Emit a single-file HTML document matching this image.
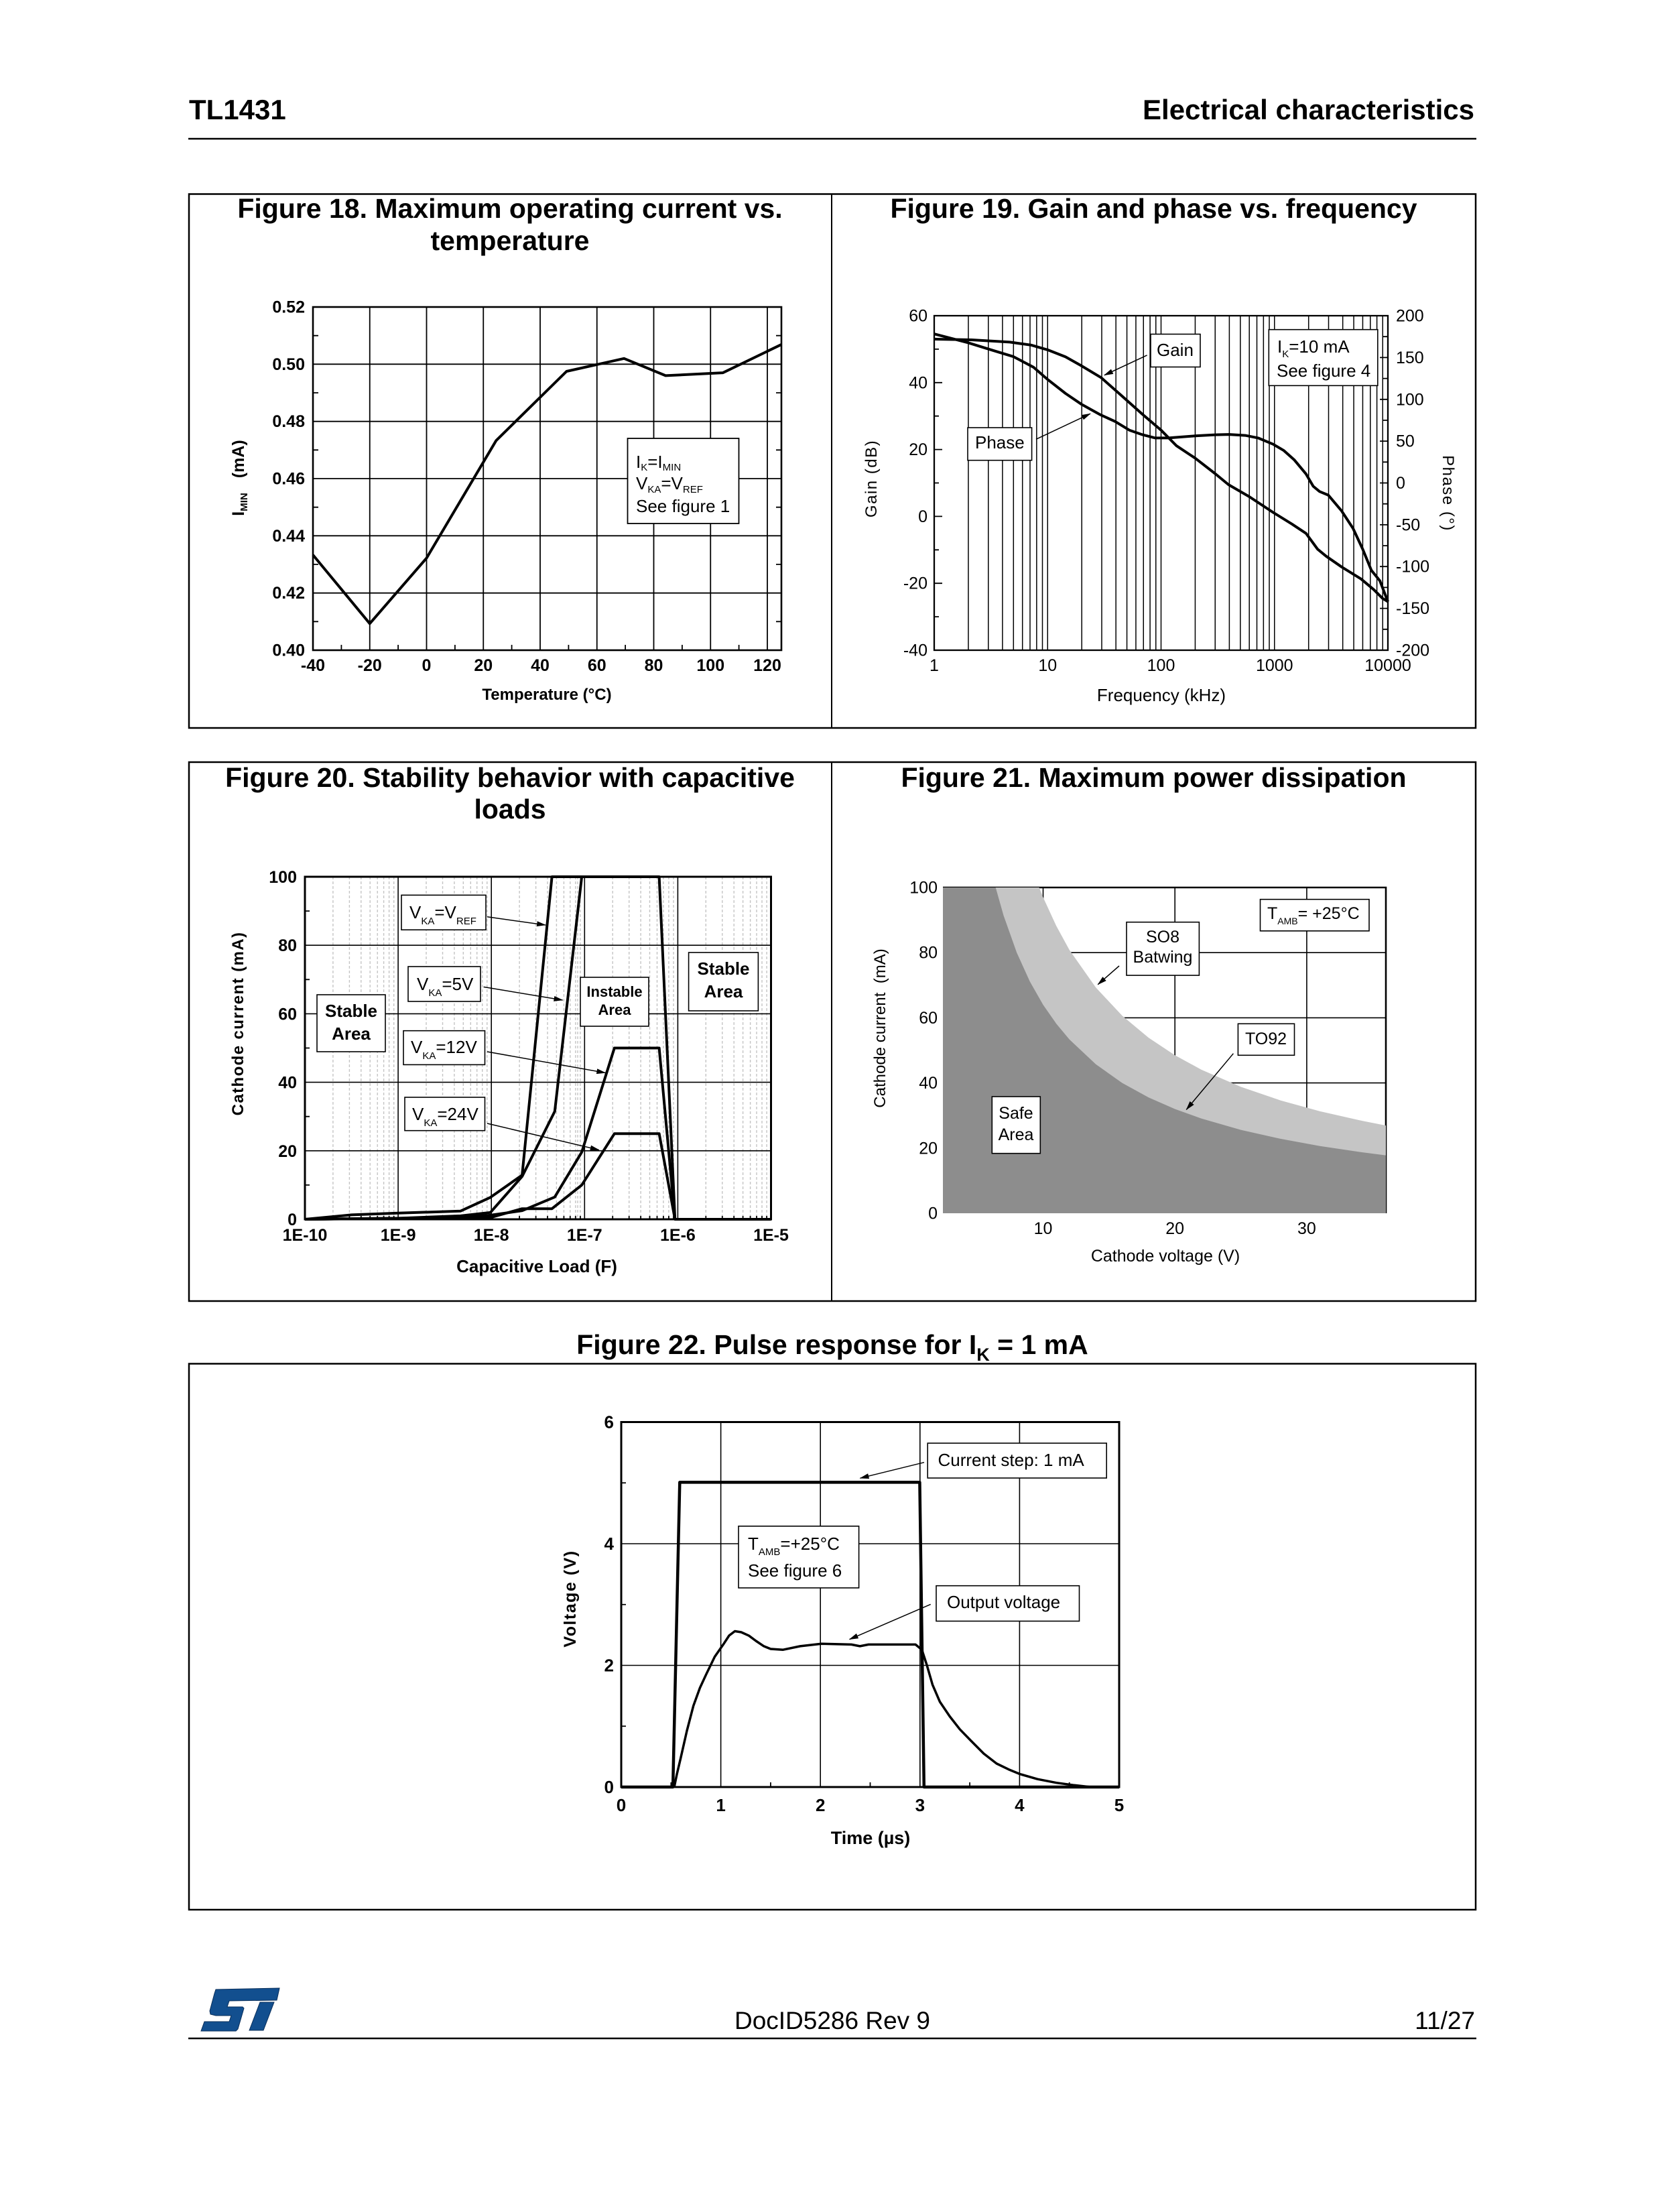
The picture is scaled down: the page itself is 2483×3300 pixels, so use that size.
<!DOCTYPE html>
<html><head><meta charset="utf-8"><style>
html,body{margin:0;padding:0;background:#fff;}
svg{display:block;}
text{font-family:"Liberation Sans",Arial,sans-serif;fill:#000;}
.b{font-weight:bold;}
</style></head><body>
<svg width="2483" height="3300" viewBox="0 0 2483 3300" xmlns="http://www.w3.org/2000/svg">
<defs>
<marker id="ah" markerWidth="14" markerHeight="8" refX="13" refY="4" orient="auto" markerUnits="userSpaceOnUse"><path d="M0,0 L14,4 L0,8 Z" fill="#000"/></marker>
</defs>
<rect x="0" y="0" width="2483" height="3300" fill="#fff"/>

<!-- Header -->
<text x="282" y="178" class="b" font-size="42">TL1431</text>
<text x="2200" y="178" class="b" font-size="42" text-anchor="end">Electrical characteristics</text>
<line x1="281" y1="207" x2="2203" y2="207" stroke="#000" stroke-width="2.5"/>

<!-- Row 1 box -->
<rect x="282" y="289.5" width="1920" height="796.5" fill="none" stroke="#000" stroke-width="2.5"/>
<line x1="1241" y1="289.5" x2="1241" y2="1086" stroke="#000" stroke-width="2"/>

<!-- ============ FIGURE 18 ============ -->
<text x="761" y="325" class="b" font-size="41" text-anchor="middle">Figure 18. Maximum operating current vs.</text>
<text x="761" y="373" class="b" font-size="41" text-anchor="middle">temperature</text>
<g stroke="#000" stroke-width="1.8" fill="none">
<path d="M467,543.3H1166M467,628.7H1166M467,714H1166M467,799.3H1166M467,884.7H1166"/>
<path d="M551.75,458V970M636.5,458V970M721.25,458V970M806,458V970M890.75,458V970M975.5,458V970M1060.25,458V970M1145,458V970"/>
<path d="M467,500.7h8M467,586h8M467,671.3h8M467,756.7h8M467,842h8M467,927.3h8M1166,500.7h-8M1166,586h-8M1166,671.3h-8M1166,756.7h-8M1166,842h-8M1166,927.3h-8"/>
<path d="M509.4,970v-8M594.1,970v-8M678.9,970v-8M763.6,970v-8M848.4,970v-8M933.1,970v-8M1017.9,970v-8M1102.6,970v-8"/>
</g>
<rect x="467" y="458" width="699" height="512" fill="none" stroke="#000" stroke-width="2.6"/>
<polyline points="467,827.9 551.75,930.3 636.5,832.6 740.3,657.3 845.4,554 931.2,534.8 993.2,560.4 1078.8,556.1 1166,513.9" fill="none" stroke="#000" stroke-width="4" stroke-linejoin="round"/>
<g class="b" font-size="25" text-anchor="end">
<text x="455" y="466.5">0.52</text>
<text x="455" y="551.8">0.50</text>
<text x="455" y="637.2">0.48</text>
<text x="455" y="722.5">0.46</text>
<text x="455" y="807.8">0.44</text>
<text x="455" y="893.2">0.42</text>
<text x="455" y="978.5">0.40</text>
</g>
<g class="b" font-size="25" text-anchor="middle">
<text x="467" y="1001">-40</text>
<text x="551.75" y="1001">-20</text>
<text x="636.5" y="1001">0</text>
<text x="721.25" y="1001">20</text>
<text x="806" y="1001">40</text>
<text x="890.75" y="1001">60</text>
<text x="975.5" y="1001">80</text>
<text x="1060.25" y="1001">100</text>
<text x="1145" y="1001">120</text>
</g>
<text x="816" y="1044" class="b" font-size="24" text-anchor="middle">Temperature (°C)</text>
<text transform="translate(364,713) rotate(-90)" class="b" font-size="25" text-anchor="middle">I<tspan font-size="15" dy="5">MIN</tspan><tspan dy="-5" dx="22">(mA)</tspan></text>
<rect x="936.5" y="654" width="166" height="127" fill="#fff" stroke="#000" stroke-width="1.8"/>
<text x="949" y="698" font-size="26">I<tspan font-size="15" dy="4">K</tspan><tspan dy="-4">=I</tspan><tspan font-size="15" dy="4">MIN</tspan></text>
<text x="949" y="730" font-size="26">V<tspan font-size="15" dy="5">KA</tspan><tspan dy="-5">=V</tspan><tspan font-size="15" dy="5">REF</tspan></text>
<text x="949" y="764" font-size="26">See figure 1</text>

<!-- ============ FIGURE 19 ============ -->
<text x="1721.5" y="325" class="b" font-size="41" text-anchor="middle">Figure 19. Gain and phase vs. frequency</text>
<path d="M1444.95,471V970M1474.75,471V970M1495.9,471V970M1512.3,471V970M1525.7,471V970M1537,471V970M1546.85,471V970M1555.5,471V970M1563.25,471V970M1614.2,471V970M1644,471V970M1665.15,471V970M1681.55,471V970M1694.95,471V970M1706.25,471V970M1716.1,471V970M1724.75,471V970M1732.5,471V970M1783.45,471V970M1813.25,471V970M1834.4,471V970M1850.8,471V970M1864.2,471V970M1875.5,471V970M1885.35,471V970M1894,471V970M1901.75,471V970M1952.7,471V970M1982.5,471V970M2003.65,471V970M2020.05,471V970M2033.45,471V970M2044.75,471V970M2054.6,471V970M2063.25,471V970" stroke="#000" stroke-width="1.5" fill="none"/>
<rect x="1394" y="471" width="677" height="499" fill="none" stroke="#000" stroke-width="2.3"/>
<path d="M1394,570.8h12M1394,670.6h12M1394,770.4h12M1394,870.2h12M1394,520.9h7M1394,620.7h7M1394,720.5h7M1394,820.3h7M1394,920.1h7" stroke="#000" stroke-width="1.8"/>
<path d="M2071,533.4h-12M2071,595.8h-12M2071,658.1h-12M2071,720.5h-12M2071,782.9h-12M2071,845.2h-12M2071,907.6h-12M2071,502.2h-7M2071,564.6h-7M2071,627h-7M2071,689.3h-7M2071,751.7h-7M2071,814.1h-7M2071,876.4h-7M2071,938.8h-7" stroke="#000" stroke-width="1.8"/>
<polyline points="1394,505.9 1449.5,507 1506.9,510.4 1539.1,514.9 1563.25,521.9 1590,532.4 1613.1,545.4 1643,563.3 1673,589.8 1705,618.2 1732.5,641.7 1755.6,665.1 1783.5,683.6 1813.7,707 1833.1,723 1864.2,741 1899.7,764.4 1928,781.9 1948.9,795.8 1966.1,819.3 1978.9,829.8 2001.8,845.7 2030.9,863.7 2050,879.7 2062.9,892.6 2071,897.6" fill="none" stroke="#000" stroke-width="4" stroke-linejoin="round"/>
<polyline points="1394,498.2 1444.6,511.3 1481.8,522.8 1512.3,532.1 1542.1,547.8 1563.25,566.1 1590,587 1613.1,602.7 1641,618.3 1664,628.8 1685.6,641.9 1705,648.6 1723.9,653.4 1743.4,653.4 1783.5,650.3 1813.7,648.6 1834.1,648.1 1858.2,649.6 1877.4,653.4 1899.7,662.7 1915.8,672.2 1931.5,686.3 1948.9,707.2 1959.6,725.5 1969.1,733.3 1982,738.6 2001.8,762 2018.9,788.1 2033.5,819.5 2046.3,850.8 2059,866.4 2071,897.6" fill="none" stroke="#000" stroke-width="4" stroke-linejoin="round"/>
<g font-size="25" text-anchor="end">
<text x="1384" y="479.5">60</text>
<text x="1384" y="579.3">40</text>
<text x="1384" y="679.1">20</text>
<text x="1384" y="778.9">0</text>
<text x="1384" y="878.7">-20</text>
<text x="1384" y="978.5">-40</text>
</g>
<g font-size="25">
<text x="2083" y="479.5">200</text>
<text x="2083" y="541.9">150</text>
<text x="2083" y="604.3">100</text>
<text x="2083" y="666.6">50</text>
<text x="2083" y="729">0</text>
<text x="2083" y="791.4">-50</text>
<text x="2083" y="853.7">-100</text>
<text x="2083" y="916.1">-150</text>
<text x="2083" y="978.5">-200</text>
</g>
<g font-size="25" text-anchor="middle">
<text x="1394" y="1001">1</text>
<text x="1563.25" y="1001">10</text>
<text x="1732.5" y="1001">100</text>
<text x="1901.75" y="1001">1000</text>
<text x="2071" y="1001">10000</text>
</g>
<text x="1733" y="1046" font-size="26" text-anchor="middle">Frequency (kHz)</text>
<text transform="translate(1308,714) rotate(-90)" font-size="24" letter-spacing="1.5" text-anchor="middle">Gain (dB)</text>
<text transform="translate(2153,736) rotate(90)" font-size="24" letter-spacing="1.5" text-anchor="middle">Phase (°)</text>
<rect x="1717" y="498.5" width="74" height="49" fill="#fff" stroke="#000" stroke-width="1.6"/>
<text x="1726" y="531" font-size="26">Gain</text>
<line x1="1711.6" y1="529.9" x2="1647.9" y2="559.7" stroke="#000" stroke-width="1.5" marker-end="url(#ah)"/>
<rect x="1444" y="638" width="95.6" height="48.7" fill="#fff" stroke="#000" stroke-width="1.6"/>
<text x="1455" y="669" font-size="26">Phase</text>
<line x1="1546" y1="655.3" x2="1626.9" y2="617.2" stroke="#000" stroke-width="1.5" marker-end="url(#ah)"/>
<rect x="1893.3" y="491.7" width="162.5" height="83.6" fill="#fff" stroke="#000" stroke-width="1.6"/>
<text x="1906" y="526" font-size="26">I<tspan font-size="15" dy="7">K</tspan><tspan dy="-7">=10 mA</tspan></text>
<text x="1905" y="562" font-size="26">See figure 4</text>

<!-- Row 2 box -->
<rect x="282" y="1137" width="1920" height="804" fill="none" stroke="#000" stroke-width="2.5"/>
<line x1="1241" y1="1137" x2="1241" y2="1941" stroke="#000" stroke-width="2"/>

<!-- ============ FIGURE 20 ============ -->
<text x="761" y="1174" class="b" font-size="41" text-anchor="middle">Figure 20. Stability behavior with capacitive</text>
<text x="761" y="1221" class="b" font-size="41" text-anchor="middle">loads</text>
<path d="M496.9,1308V1819M521.4,1308V1819M538.8,1308V1819M552.2,1308V1819M563.2,1308V1819M572.6,1308V1819M580.6,1308V1819M587.7,1308V1819M636,1308V1819M660.5,1308V1819M677.9,1308V1819M691.3,1308V1819M702.3,1308V1819M711.7,1308V1819M719.7,1308V1819M726.8,1308V1819M775.1,1308V1819M799.6,1308V1819M817,1308V1819M830.4,1308V1819M841.4,1308V1819M850.8,1308V1819M858.8,1308V1819M865.9,1308V1819M914.2,1308V1819M938.7,1308V1819M956.1,1308V1819M969.5,1308V1819M980.5,1308V1819M989.9,1308V1819M997.9,1308V1819M1005,1308V1819M1053.3,1308V1819M1077.8,1308V1819M1095.2,1308V1819M1108.6,1308V1819M1119.6,1308V1819M1129,1308V1819M1137,1308V1819M1144.1,1308V1819M862,1308V1819" stroke="#c4c4c4" stroke-width="1.4" stroke-dasharray="4,3" fill="none"/>
<path d="M594.1,1308V1819M733.2,1308V1819M872.3,1308V1819M1011.4,1308V1819M455,1716.8H1150.5M455,1614.6H1150.5M455,1512.4H1150.5M455,1410.2H1150.5" stroke="#000" stroke-width="1.6" fill="none"/>
<path d="M496.9,1819v-5M521.4,1819v-5M538.8,1819v-5M552.2,1819v-5M563.2,1819v-5M572.6,1819v-5M580.6,1819v-5M587.7,1819v-5M636,1819v-5M660.5,1819v-5M677.9,1819v-5M691.3,1819v-5M702.3,1819v-5M711.7,1819v-5M719.7,1819v-5M726.8,1819v-5M775.1,1819v-5M799.6,1819v-5M817,1819v-5M830.4,1819v-5M841.4,1819v-5M850.8,1819v-5M858.8,1819v-5M865.9,1819v-5M914.2,1819v-5M938.7,1819v-5M956.1,1819v-5M969.5,1819v-5M980.5,1819v-5M989.9,1819v-5M997.9,1819v-5M1005,1819v-5M1053.3,1819v-5M1077.8,1819v-5M1095.2,1819v-5M1108.6,1819v-5M1119.6,1819v-5M1129,1819v-5M1137,1819v-5M1144.1,1819v-5M455,1767.9h7M455,1665.7h7M455,1563.5h7M455,1461.3h7M455,1359.1h7" stroke="#000" stroke-width="1.8" fill="none"/>
<rect x="455" y="1308" width="695.5" height="511" fill="none" stroke="#000" stroke-width="3"/>
<g fill="none" stroke="#000" stroke-width="4" stroke-linejoin="round">
<polyline points="455,1819 524.6,1812.4 594.1,1809.8 687.3,1806.7 731.8,1786.3 779.1,1753.1 823.6,1308 983.6,1308 1007.2,1819 1150.5,1819"/>
<polyline points="455,1819 594.1,1817.5 687.3,1813.9 731.8,1808.8 779.1,1755.1 827.8,1658 868.1,1308"/>
<polyline points="455,1819 687.3,1816.4 731.8,1812.9 779.1,1806.2 827.8,1785.8 868.1,1718.8 916.8,1563.5 983.6,1563.5 1007.2,1819"/>
<polyline points="455,1819 731.8,1816.4 779.1,1803.2 823.6,1803.2 868.1,1767.9 916.8,1691.3 983.6,1691.3 1007.2,1819"/>
</g>
<g class="b" font-size="25" text-anchor="end">
<text x="443" y="1828">0</text>
<text x="443" y="1725.8">20</text>
<text x="443" y="1623.6">40</text>
<text x="443" y="1521.4">60</text>
<text x="443" y="1419.2">80</text>
<text x="443" y="1317">100</text>
</g>
<g class="b" font-size="25" text-anchor="middle">
<text x="455" y="1851">1E-10</text>
<text x="594.1" y="1851">1E-9</text>
<text x="733.2" y="1851">1E-8</text>
<text x="872.3" y="1851">1E-7</text>
<text x="1011.4" y="1851">1E-6</text>
<text x="1150.5" y="1851">1E-5</text>
</g>
<text x="801" y="1898" class="b" font-size="26" text-anchor="middle">Capacitive Load (F)</text>
<text transform="translate(363,1527) rotate(-90)" class="b" font-size="24" letter-spacing="1.4" text-anchor="middle">Cathode current (mA)</text>
<g fill="#fff" stroke="#000" stroke-width="1.6">
<rect x="599" y="1335.4" width="126" height="51.8"/>
<rect x="609" y="1442" width="108" height="52"/>
<rect x="602" y="1537.7" width="121.5" height="50.7"/>
<rect x="604" y="1637" width="119.5" height="49.7"/>
<rect x="473" y="1484" width="102" height="85"/>
<rect x="866" y="1458" width="102" height="73"/>
<rect x="1027.6" y="1421" width="103.8" height="87"/>
</g>
<text x="611" y="1370" font-size="26">V<tspan font-size="15" dy="9">KA</tspan><tspan dy="-9">=V</tspan><tspan font-size="15" dy="9">REF</tspan></text>
<text x="622" y="1477" font-size="26">V<tspan font-size="15" dy="9">KA</tspan><tspan dy="-9">=5V</tspan></text>
<text x="613" y="1571" font-size="26">V<tspan font-size="15" dy="9">KA</tspan><tspan dy="-9">=12V</tspan></text>
<text x="615" y="1671" font-size="26">V<tspan font-size="15" dy="9">KA</tspan><tspan dy="-9">=24V</tspan></text>
<g class="b" text-anchor="middle">
<text x="524" y="1517" font-size="26">Stable</text>
<text x="524" y="1551" font-size="26">Area</text>
<text x="917" y="1487" font-size="22">Instable</text>
<text x="917" y="1514" font-size="22">Area</text>
<text x="1079.5" y="1454" font-size="26">Stable</text>
<text x="1079.5" y="1488" font-size="26">Area</text>
</g>
<g stroke="#000" stroke-width="1.5" marker-end="url(#ah)">
<line x1="727" y1="1367.8" x2="814" y2="1380"/>
<line x1="721.6" y1="1472.4" x2="839.5" y2="1492"/>
<line x1="727" y1="1569" x2="903.3" y2="1600.5"/>
<line x1="727" y1="1676" x2="893.7" y2="1715.5"/>
</g>

<!-- ============ FIGURE 21 ============ -->
<text x="1721.5" y="1174" class="b" font-size="41" text-anchor="middle">Figure 21. Maximum power dissipation</text>
<path d="M1556.5,1324V1810M1753.2,1324V1810M1949.9,1324V1810M1407,1712.8H2068M1407,1615.6H2068M1407,1518.4H2068M1407,1421.2H2068" stroke="#000" stroke-width="1.6" fill="none"/>
<path d="M1407,1324H2068V1810" stroke="#000" stroke-width="2.6" fill="none"/>
<polygon points="1407,1810 1407,1324 1550.6,1324 1556.5,1338.6 1576.2,1381.4 1595.8,1417.2 1635.2,1473.3 1674.5,1515.3 1713.9,1548.1 1753.2,1574.3 1792.5,1595.7 1851.5,1621.4 1910.6,1641.6 1969.6,1657.9 2028.6,1671.3 2068,1679.1 2068,1810" fill="#c5c5c5"/>
<polygon points="1407,1810 1407,1324 1485.7,1324 1497.5,1365.7 1517.2,1421.2 1536.8,1464.4 1556.5,1499 1576.2,1527.2 1595.8,1550.8 1635.2,1587.8 1674.5,1615.6 1713.9,1637.2 1753.2,1654.5 1792.5,1668.6 1851.5,1685.6 1910.6,1698.9 1969.6,1709.7 2028.6,1718.5 2068,1723.6 2068,1810" fill="#8d8d8d"/>
<g font-size="25" text-anchor="end">
<text x="1399" y="1818.5">0</text>
<text x="1399" y="1721.3">20</text>
<text x="1399" y="1624.1">40</text>
<text x="1399" y="1526.9">60</text>
<text x="1399" y="1429.7">80</text>
<text x="1399" y="1332.5">100</text>
</g>
<g font-size="25" text-anchor="middle">
<text x="1556.5" y="1841">10</text>
<text x="1753.2" y="1841">20</text>
<text x="1949.9" y="1841">30</text>
</g>
<text x="1739" y="1882" font-size="25" text-anchor="middle">Cathode voltage (V)</text>
<text transform="translate(1321,1534) rotate(-90)" font-size="24" text-anchor="middle" xml:space="preserve">Cathode current  (mA)</text>
<g fill="#fff" stroke="#000" stroke-width="1.6">
<rect x="1880.5" y="1341.7" width="162.5" height="47.1"/>
<rect x="1681" y="1375.7" width="108.4" height="79.4"/>
<rect x="1847.4" y="1527.3" width="84.1" height="47"/>
<rect x="1480.3" y="1636" width="72" height="84.7"/>
</g>
<text x="1891" y="1371" font-size="25">T<tspan font-size="14" dy="8">AMB</tspan><tspan dy="-8">= +25°C</tspan></text>
<g font-size="25" text-anchor="middle">
<text x="1735" y="1406">SO8</text>
<text x="1735" y="1436">Batwing</text>
<text x="1889" y="1558">TO92</text>
<text x="1516" y="1669">Safe</text>
<text x="1516" y="1701">Area</text>
</g>
<g stroke="#000" stroke-width="1.5" marker-end="url(#ah)">
<line x1="1670" y1="1441" x2="1638.3" y2="1468.7"/>
<line x1="1840.4" y1="1571.7" x2="1770.3" y2="1655.4"/>
</g>

<!-- ============ FIGURE 22 ============ -->
<text x="1242" y="2020" class="b" font-size="41" text-anchor="middle">Figure 22. Pulse response for I<tspan font-size="27" dy="10">K</tspan><tspan dy="-10"> = 1 mA</tspan></text>
<rect x="282" y="2034.5" width="1920" height="814.5" fill="none" stroke="#000" stroke-width="2.5"/>
<path d="M1075.6,2121.5V2666M1224.2,2121.5V2666M1372.8,2121.5V2666M1521.4,2121.5V2666M927,2484.5H1670M927,2303H1670" stroke="#000" stroke-width="1.6" fill="none"/>
<path d="M927,2575.25h7M927,2393.75h7M927,2212.25h7M1001.3,2666v-7M1149.9,2666v-7M1298.5,2666v-7M1447.1,2666v-7M1595.7,2666v-7" stroke="#000" stroke-width="1.8" fill="none"/>
<rect x="927" y="2121.5" width="743" height="544.5" fill="none" stroke="#000" stroke-width="3"/>
<polyline points="927,2666 1004.1,2666 1014.3,2211.4 1372.4,2211.4 1378.8,2666 1670,2666" fill="none" stroke="#000" stroke-width="4.5" stroke-linejoin="round"/>
<polyline points="1006.1,2666 1010,2647 1015.6,2623.3 1025,2582 1034.7,2544.8 1044.4,2518.1 1053.8,2497.8 1066.5,2471.6 1079.3,2453.3 1088,2440 1096.6,2433.5 1106,2435 1117.5,2440.2 1128,2448 1139.8,2455.9 1150,2460 1168.5,2461.2 1194,2455.9 1225.8,2452.3 1270.4,2453.4 1283.2,2455.9 1296,2453.4 1366.1,2453.4 1375.6,2461.2 1383,2484 1391.5,2513.4 1402.5,2538.9 1417.1,2560.5 1432.2,2579.8 1448.9,2597 1467.9,2616.1 1487.1,2631 1505.1,2639.7 1522.1,2646.7 1548.1,2654.2 1576.4,2659.7 1603.1,2663.3 1627.4,2666" fill="none" stroke="#000" stroke-width="3.5" stroke-linejoin="round"/>
<g class="b" font-size="26" text-anchor="end">
<text x="916" y="2675">0</text>
<text x="916" y="2493.5">2</text>
<text x="916" y="2312">4</text>
<text x="916" y="2130.5">6</text>
</g>
<g class="b" font-size="26" text-anchor="middle">
<text x="927" y="2702">0</text>
<text x="1075.6" y="2702">1</text>
<text x="1224.2" y="2702">2</text>
<text x="1372.8" y="2702">3</text>
<text x="1521.4" y="2702">4</text>
<text x="1670" y="2702">5</text>
</g>
<text x="1299" y="2751" class="b" font-size="27" text-anchor="middle">Time (µs)</text>
<text transform="translate(859,2385) rotate(-90)" class="b" font-size="25" letter-spacing="1.5" text-anchor="middle">Voltage (V)</text>
<g fill="#fff" stroke="#000" stroke-width="1.6">
<rect x="1384.2" y="2153" width="267" height="52"/>
<rect x="1102" y="2276.8" width="179.6" height="92.1"/>
<rect x="1397" y="2365.7" width="213.5" height="52.8"/>
</g>
<text x="1399.5" y="2187" font-size="26">Current step: 1 mA</text>
<text x="1116" y="2312" font-size="26">T<tspan font-size="15" dy="8">AMB</tspan><tspan dy="-8">=+25°C</tspan></text>
<text x="1116" y="2352" font-size="26">See figure 6</text>
<text x="1413" y="2399" font-size="26">Output voltage</text>
<g stroke="#000" stroke-width="1.5" marker-end="url(#ah)">
<line x1="1379" y1="2181.7" x2="1283.5" y2="2205.2"/>
<line x1="1388.7" y1="2393.4" x2="1267.6" y2="2445.7"/>
</g>

<!-- Footer -->
<g transform="translate(298,2965)" fill="#124f8f" stroke="#0a2f5a" stroke-width="1">
<path d="M24,3 L119,1 L115,19 L44,20 L41,29 L64,29 L66,31 L57,62 L54,65 L2,65 L7,51 L44,51 L47,42 L24,42 L16,40 L15,35 L22,9 Z"/>
<path d="M90,22 L111,22 L95,64 L74,64 Z"/>
</g>
<text x="1242" y="3027" font-size="37" text-anchor="middle">DocID5286 Rev 9</text>
<text x="2201" y="3027" font-size="37" text-anchor="end">11/27</text>
<line x1="281" y1="3041" x2="2203" y2="3041" stroke="#000" stroke-width="2.5"/>
</svg>
</body></html>
